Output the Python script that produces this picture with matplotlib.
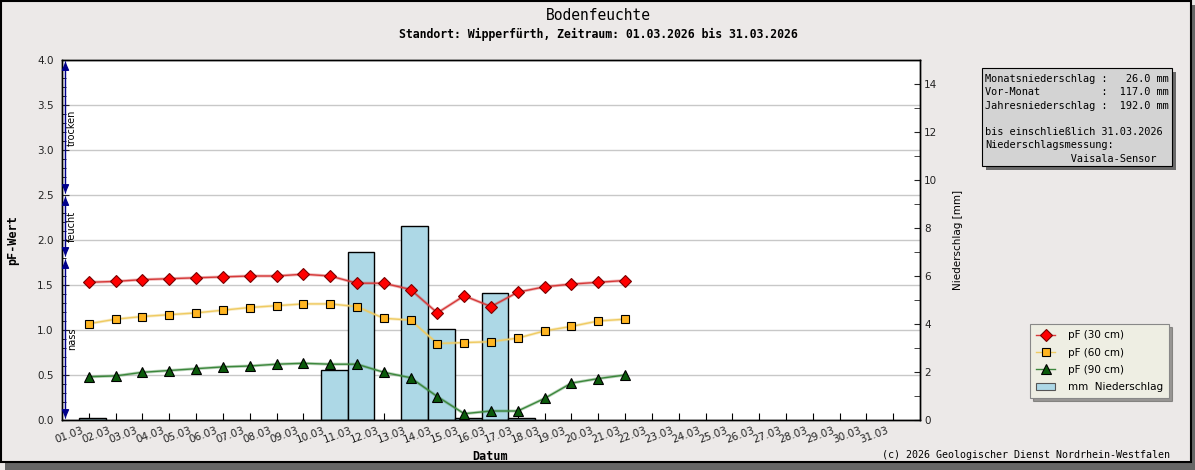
import numpy as np
import matplotlib
matplotlib.use("Agg")
import matplotlib.pyplot as plt
from matplotlib.lines import Line2D
from matplotlib.patches import Patch, Rectangle
from matplotlib.transforms import ScaledTranslation

# -----------------------------------------------------------------------------
# Data
# -----------------------------------------------------------------------------
days_all = np.arange(1, 32)
tick_labels = [f"{d:02d}.03" for d in days_all]

pf_days = np.arange(1, 22)
pf_30 = [1.53, 1.54, 1.56, 1.57, 1.58, 1.59, 1.60, 1.60, 1.62, 1.60, 1.52,
         1.52, 1.45, 1.19, 1.38, 1.26, 1.42, 1.48, 1.51, 1.53, 1.55]
pf_60 = [1.07, 1.12, 1.15, 1.17, 1.19, 1.22, 1.25, 1.27, 1.29, 1.29, 1.26,
         1.13, 1.11, 0.85, 0.86, 0.87, 0.91, 0.99, 1.04, 1.10, 1.12]
pf_90 = [0.48, 0.49, 0.53, 0.55, 0.57, 0.59, 0.60, 0.62, 0.63, 0.62, 0.62,
         0.53, 0.47, 0.26, 0.07, 0.10, 0.10, 0.24, 0.41, 0.46, 0.50]

rain_days = [1, 10, 11, 13, 14, 15, 16, 17]
rain_mm = [0.1, 2.1, 7.0, 8.1, 3.8, 0.1, 5.3, 0.1]

zone_bounds = [0.0, 1.8, 2.5, 4.0]
zone_names = ["nass", "feucht", "trocken"]

info_lines = [
    "Monatsniederschlag :   26.0 mm",
    "Vor-Monat          :  117.0 mm",
    "Jahresniederschlag :  192.0 mm",
    "",
    "bis einschließlich 31.03.2026",
    "Niederschlagsmessung:",
    "              Vaisala-Sensor",
]

# -----------------------------------------------------------------------------
# Figure
# -----------------------------------------------------------------------------
W, H = 1195, 470
BG = "#ECE9E8"
MONO = "DejaVu Sans Mono"

fig = plt.figure(figsize=(W / 100, H / 100), dpi=100, facecolor=BG)


def fx(px):
    return px / W


def fy(py):
    return 1 - py / H


# frame + drop shadow
fig.patches.append(Rectangle((fx(5), 0), fx(1190), fy(5),
                             transform=fig.transFigure, facecolor="#666666",
                             edgecolor="none", zorder=-3))
fig.patches.append(Rectangle((fx(0.5), fy(462)), fx(1190), fy(0.5) - fy(462),
                             transform=fig.transFigure, facecolor=BG,
                             edgecolor="black", lw=1.5, zorder=-2))

ax_r = fig.add_axes([fx(62), fy(420), fx(920) - fx(62), fy(60) - fy(420)])
ax = ax_r.twinx()
ax.yaxis.tick_left()
ax.yaxis.set_label_position("left")
ax_r.yaxis.tick_right()
ax_r.yaxis.set_label_position("right")
ax.set_zorder(ax_r.get_zorder() + 1)
ax.patch.set_visible(False)
ax_r.set_facecolor("white")

# grid (pF major ticks), drawn underneath the bars
for yv in np.arange(0, 4.01, 0.5):
    ax_r.add_line(Line2D([0, 1], [yv, yv], transform=ax.get_yaxis_transform(),
                         color="#C8C8C8", lw=1.0, zorder=0.5))

# precipitation bars
ax_r.bar(np.array(rain_days) + 0.15, rain_mm, width=1.0, color="#ADD8E6",
         edgecolor="black", lw=1.0, zorder=2)
ax_r.set_ylim(0, 15)
ax_r.set_yticks(np.arange(0, 15, 2))
ax_r.set_yticks(np.arange(1, 15, 2), minor=True)
ax_r.tick_params(axis="y", which="both", direction="in", length=4, pad=3,
                 labelsize=7.5, colors="#222222")
ax_r.set_ylabel("Niederschlag [mm]", fontsize=7.5, labelpad=11)

# pF series
series = [
    (pf_30, "pF (30 cm)", "D", "#FF0000", "#7A0000", "#D63A3A", 6.5),
    (pf_60, "pF (60 cm)", "s", "#FFB521", "#000000", "#EFCB62", 5.5),
    (pf_90, "pF (90 cm)", "^", "#0B5A0B", "#000000", "#3C873C", 6.5),
]
handles = []
for vals, lab, mk, fc, ec, lc, ms in series:
    ax.plot(pf_days, vals, color=lc, lw=2.2, alpha=0.35, zorder=3)
    ax.plot(pf_days, vals, color=lc, lw=1.0, zorder=3.5)
    ax.plot(pf_days, vals, ls="none", marker=mk, ms=ms, mfc=fc, mec=ec,
            mew=0.8, zorder=4)
    handles.append(Line2D([], [], color=lc, lw=1.0, marker=mk, ms=ms,
                          mfc=fc, mec=ec, mew=0.8, label=lab))
handles.append(Patch(facecolor="#ADD8E6", edgecolor="#555555", lw=0.8,
                     label="mm  Niederschlag"))

ax.set_ylim(0, 4)
ax.set_yticks(np.arange(0, 4.01, 0.5))
ax.set_yticks(np.arange(0, 4.01, 0.1), minor=True)
ax.yaxis.set_major_formatter(matplotlib.ticker.FormatStrFormatter("%.1f"))
ax.tick_params(axis="y", which="major", direction="in", length=5, pad=6,
               labelsize=7.5, colors="#222222")
ax.tick_params(axis="y", which="minor", direction="in", length=3)
ax.set_ylabel("pF-Wert", fontsize=8.5, family=MONO, fontweight="bold",
              labelpad=13)

# zone arrows on the left
zone_x = 0.13
for lo, hi, name in zip(zone_bounds[:-1], zone_bounds[1:], zone_names):
    ax.annotate("", xy=(zone_x, hi - 0.02), xytext=(zone_x, lo + 0.02),
                arrowprops=dict(arrowstyle="-|>,head_length=0.5,head_width=0.22",
                                color="#00008B", lw=0.9, shrinkA=0, shrinkB=0),
                zorder=5)
    ax.annotate("", xy=(zone_x, lo + 0.02), xytext=(zone_x, hi - 0.02),
                arrowprops=dict(arrowstyle="-|>,head_length=0.5,head_width=0.22",
                                color="#00008B", lw=0.9, shrinkA=0, shrinkB=0),
                zorder=5)
    ax.text(zone_x + 0.24, (lo + hi) / 2, name, rotation=90, fontsize=7,
            va="center", ha="center", zorder=5)

# x axis (labels drawn as texts so they can sit left of their tick)
ax_r.set_xlim(0, 32)
ax_r.set_xticks(days_all)
ax_r.tick_params(axis="x", direction="in", length=5, labelbottom=False)
ax.tick_params(axis="x", which="both", bottom=False, labelbottom=False)
offset = ScaledTranslation(-5 / 72, -4 / 72, fig.dpi_scale_trans)
for d, lab in zip(days_all, tick_labels):
    ax_r.text(d, 0, lab, transform=ax_r.get_xaxis_transform() + offset,
              rotation=20, rotation_mode="anchor", ha="right", va="top",
              fontsize=7.5, color="#222222", clip_on=False)
fig.text(fx(490), fy(457), "Datum", ha="center", va="center", fontsize=8.5,
         family=MONO, fontweight="bold")

for a in (ax, ax_r):
    for sp in a.spines.values():
        sp.set_linewidth(1.0)

# titles
fig.text(fx(598), fy(15), "Bodenfeuchte", ha="center", va="center",
         fontsize=10.5, family=MONO)
fig.text(fx(598), fy(34), "Standort: Wipperfürth, Zeitraum: 01.03.2026 bis 31.03.2026",
         ha="center", va="center", fontsize=8.3, family=MONO, fontweight="bold")

# info box
fig.patches.append(Rectangle((fx(986), fy(170)), fx(190), fy(72) - fy(170),
                             transform=fig.transFigure, facecolor="#6A6A6A",
                             edgecolor="none", zorder=1))
fig.patches.append(Rectangle((fx(982), fy(166)), fx(190), fy(68) - fy(166),
                             transform=fig.transFigure, facecolor="#D3D3D3",
                             edgecolor="black", lw=0.8, zorder=2))
for i, line in enumerate(info_lines):
    fig.text(fx(985), fy(79 + i * 13.3), line, ha="left", va="center",
             fontsize=7.4, family=MONO, zorder=3)

# legend
leg = fig.legend(handles=handles, loc="upper left",
                 bbox_to_anchor=(fx(1030), fy(324)), fontsize=7.5,
                 frameon=True, fancybox=False, shadow=True, framealpha=1,
                 facecolor="#EEEEE3", edgecolor="#888888", borderpad=0.6,
                 labelspacing=0.7, handlelength=1.8, handletextpad=1.2,
                 borderaxespad=0)
leg.get_frame().set_linewidth(0.8)

# copyright
fig.text(fx(1170), fy(455), "(c) 2026 Geologischer Dienst Nordrhein-Westfalen",
         ha="right", va="center", fontsize=7.2, family=MONO)

fig.savefig("out.png", dpi=100, facecolor=BG)
